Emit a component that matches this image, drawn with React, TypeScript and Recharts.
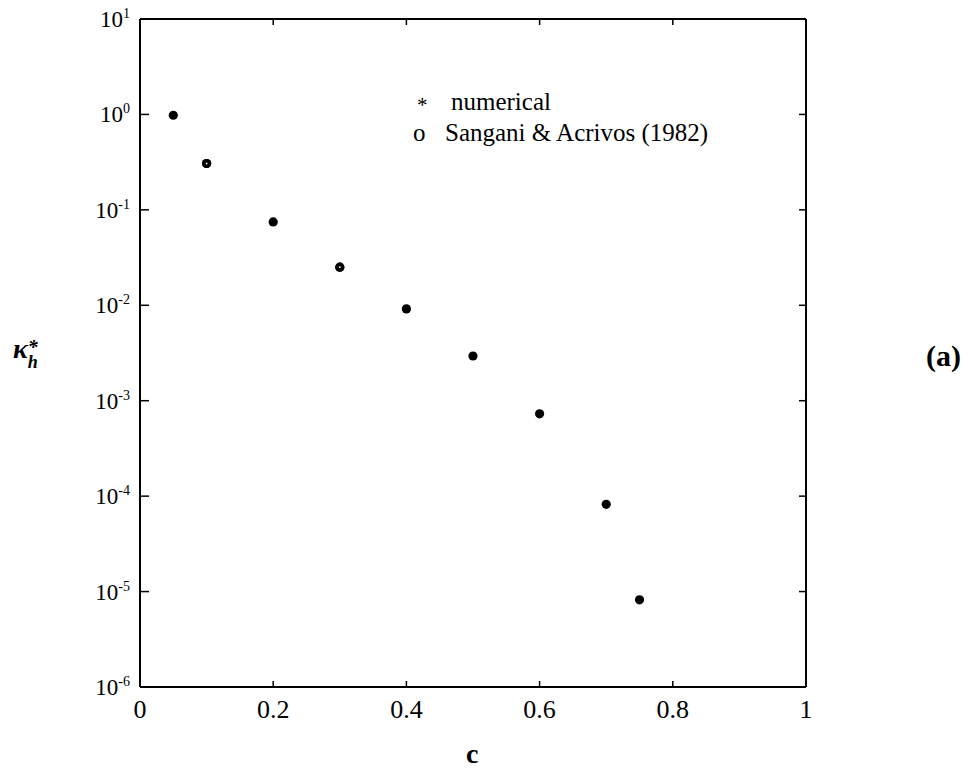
import React from 'react';
import { ScatterChart, Scatter, XAxis, YAxis } from 'recharts';

const concentration = [0.05, 0.1, 0.2, 0.3, 0.4, 0.5, 0.6, 0.7, 0.75];
const numericalValues = [0.98, 0.306, 0.0747, 0.0251, 0.00917, 0.00294, 0.000729, 0.000082, 0.0000082];
const sanganiConcentration = [0.1, 0.3];
const sanganiValues = [0.306, 0.0251];
const xTicks = [0, 0.2, 0.4, 0.6, 0.8, 1];
const xTickLabels = ['0', '0.2', '0.4', '0.6', '0.8', '1'];
const yTicks = [1e-6, 1e-5, 1e-4, 1e-3, 1e-2, 1e-1, 1, 10];
const yTickExponents = ['-6', '-5', '-4', '-3', '-2', '-1', '0', '1'];

const numericalData = concentration.map((c, i) => ({ c, k: numericalValues[i] }));
const sanganiData = sanganiConcentration.map((c, i) => ({ c, k: sanganiValues[i] }));

const FONT = '"Liberation Serif", "Times New Roman", serif';

const BottomTick: React.FC<any> = ({ x, y, payload }) => {
  const idx = xTicks.indexOf(payload.value);
  return (
    <g>
      <line x1={x} y1={y} x2={x} y2={y - 6} stroke="#000" strokeWidth={1.5} />
      <text x={x} y={y + 31} textAnchor="middle" fontFamily={FONT} fontSize={26} fill="#000">
        {xTickLabels[idx] ?? payload.value}
      </text>
    </g>
  );
};

const TopTick: React.FC<any> = ({ x, y }) => (
  <line x1={x} y1={y} x2={x} y2={y + 6} stroke="#000" strokeWidth={1.5} />
);

const LeftTick: React.FC<any> = ({ x, y, payload }) => {
  const idx = yTicks.findIndex((t) => Math.abs(t - payload.value) / t < 1e-6);
  return (
    <g>
      <line x1={x} y1={y} x2={x + 9} y2={y} stroke="#000" strokeWidth={1.5} />
      <text x={x - 10} y={y + 8} textAnchor="end" fontFamily={FONT} fontSize={23} fill="#000">
        10
        <tspan dy={-9} fontSize={14}>{yTickExponents[idx]}</tspan>
      </text>
    </g>
  );
};

const RightTick: React.FC<any> = ({ x, y }) => (
  <line x1={x} y1={y} x2={x - 7} y2={y} stroke="#000" strokeWidth={1.5} />
);

const FilledDot: React.FC<any> = ({ cx, cy }) => <circle cx={cx} cy={cy} r={4.6} fill="#000" />;

const OpenDot: React.FC<any> = ({ cx, cy }) => (
  <g>
    <circle cx={cx} cy={cy} r={4.6} fill="#000" />
    <circle cx={cx} cy={cy} r={0.9} fill="#fff" />
  </g>
);

const LegendBox: React.FC = () => (
  <div
    style={{
      position: 'absolute',
      left: 413,
      top: 86,
      width: 360,
      fontFamily: FONT,
      fontSize: 25,
      color: '#000',
      lineHeight: '31px',
    }}
  >
    <div style={{ display: 'flex' }}>
      <span style={{ width: 34, display: 'inline-block', paddingLeft: 4, fontSize: 21, position: 'relative', top: 4 }}>*</span>
      <span>numerical</span>
    </div>
    <div style={{ display: 'flex' }}>
      <span style={{ width: 32, display: 'inline-block' }}>o</span>
      <span>Sangani &amp; Acrivos (1982)</span>
    </div>
  </div>
);

export default function App() {
  return (
    <div style={{ position: 'relative', width: 974, height: 772, margin: -8, fontFamily: FONT }}>
      <ScatterChart
        width={974}
        height={772}
        margin={{ top: 18, right: 167, bottom: 0, left: 60 }}
        style={{ overflow: 'visible' }}
      >
        <XAxis
          xAxisId="bottom"
          dataKey="c"
          type="number"
          domain={[0, 1]}
          ticks={xTicks}
          interval={0}
          height={85}
          tickSize={0}
          tickMargin={0}
          tick={<BottomTick />}
          axisLine={{ stroke: '#000', strokeWidth: 2 }}
          tickLine={false}
          allowDataOverflow
        />
        <XAxis
          xAxisId="top"
          orientation="top"
          dataKey="c"
          type="number"
          domain={[0, 1]}
          ticks={xTicks}
          interval={0}
          height={1}
          tickSize={0}
          tickMargin={0}
          tick={<TopTick />}
          axisLine={{ stroke: '#000', strokeWidth: 2 }}
          tickLine={false}
          allowDataOverflow
        />
        <YAxis
          yAxisId="left"
          dataKey="k"
          type="number"
          scale="log"
          domain={[1e-6, 10]}
          ticks={yTicks}
          interval={0}
          width={80}
          tickSize={0}
          tickMargin={0}
          tick={<LeftTick />}
          axisLine={{ stroke: '#000', strokeWidth: 2 }}
          tickLine={false}
          allowDataOverflow
        />
        <YAxis
          yAxisId="right"
          orientation="right"
          dataKey="k"
          type="number"
          scale="log"
          domain={[1e-6, 10]}
          ticks={yTicks}
          interval={0}
          width={1}
          tickSize={0}
          tickMargin={0}
          tick={<RightTick />}
          axisLine={{ stroke: '#000', strokeWidth: 2 }}
          tickLine={false}
          allowDataOverflow
        />
        <Scatter
          name="frame"
          data={numericalData}
          xAxisId="top"
          yAxisId="right"
          shape={() => null}
          isAnimationActive={false}
        />
        <Scatter
          name="numerical"
          data={numericalData}
          xAxisId="bottom"
          yAxisId="left"
          shape={<FilledDot />}
          isAnimationActive={false}
        />
        <Scatter
          name="Sangani & Acrivos (1982)"
          data={sanganiData}
          xAxisId="bottom"
          yAxisId="left"
          shape={<OpenDot />}
          isAnimationActive={false}
        />
      </ScatterChart>
      <LegendBox />
      <div
        style={{
          position: 'absolute',
          left: 13,
          top: 333,
          fontFamily: FONT,
          fontSize: 28,
          fontStyle: 'italic',
          fontWeight: 'bold',
          color: '#000',
        }}
      >
        κ
        <span style={{ position: 'relative', display: 'inline-block', width: 14 }}>
          <span style={{ position: 'absolute', left: 0, top: -22, fontSize: 20 }}>*</span>
          <span style={{ position: 'absolute', left: 0, top: -6, fontSize: 18 }}>h</span>
        </span>
      </div>
      <div
        style={{
          position: 'absolute',
          left: 926,
          top: 339,
          fontFamily: FONT,
          fontSize: 30,
          fontWeight: 'bold',
          color: '#000',
        }}
      >
        (a)
      </div>
      <div
        style={{
          position: 'absolute',
          left: 466,
          top: 738,
          fontFamily: FONT,
          fontSize: 28,
          fontWeight: 'bold',
          color: '#000',
        }}
      >
        c
      </div>
    </div>
  );
}
